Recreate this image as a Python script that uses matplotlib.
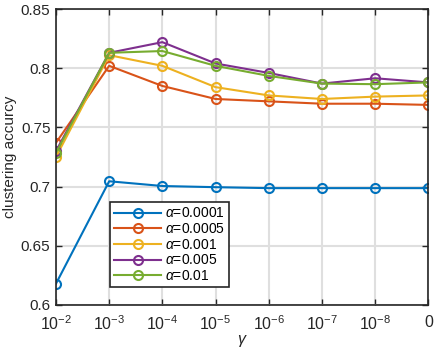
import matplotlib
matplotlib.use("Agg")
import matplotlib.pyplot as plt

plt.rcParams["font.family"] = ["Liberation Sans", "DejaVu Sans"]
plt.rcParams["mathtext.fontset"] = "custom"
plt.rcParams["mathtext.rm"] = "Liberation Sans"
plt.rcParams["mathtext.it"] = "Liberation Sans:italic"

gamma_labels = [r"$\mathregular{10^{-2}}$", r"$\mathregular{10^{-3}}$", r"$\mathregular{10^{-4}}$",
                r"$\mathregular{10^{-5}}$", r"$\mathregular{10^{-6}}$", r"$\mathregular{10^{-7}}$",
                r"$\mathregular{10^{-8}}$", "0"]
alpha_labels = ["0.0001", "0.0005", "0.001", "0.005", "0.01"]
acc_a1 = [0.618, 0.7045, 0.7005, 0.6995, 0.6987, 0.6987, 0.6987, 0.6987]
acc_a2 = [0.737, 0.802, 0.785, 0.774, 0.772, 0.770, 0.770, 0.769]
acc_a3 = [0.725, 0.811, 0.802, 0.784, 0.777, 0.774, 0.776, 0.777]
acc_a4 = [0.730, 0.813, 0.822, 0.804, 0.796, 0.787, 0.7915, 0.788]
acc_a5 = [0.7285, 0.813, 0.8145, 0.802, 0.7935, 0.787, 0.7865, 0.788]
series = [acc_a1, acc_a2, acc_a3, acc_a4, acc_a5]
colors = ["#0072BD", "#D95319", "#EDB120", "#7E2F8E", "#77AC30"]

fig = plt.figure(figsize=(4.36, 3.53), dpi=100)
ax = fig.add_axes([0.1284, 0.136, 0.854, 0.8385])
x = list(range(len(gamma_labels)))
for s, c, a in zip(series, colors, alpha_labels):
    ax.plot(x, s, "-o", color=c, lw=1.5, ms=6.5, mfc="none", mew=1.5,
            label=r"$\alpha$=" + a)

ax.set_xlim(0, 7)
ax.set_ylim(0.6, 0.85)
ax.set_xticks(x)
ax.set_xticklabels(gamma_labels)
ax.set_yticks([0.6, 0.65, 0.7, 0.75, 0.8, 0.85])
ax.set_yticklabels(["0.6", "0.65", "0.7", "0.75", "0.8", "0.85"])
ax.grid(True, color="#dfdfdf", lw=1.5)
ax.set_axisbelow(True)
ax.tick_params(direction="in", top=True, right=True, labelsize=11, colors="#262626",
               length=4, width=1, pad=4)
ax.tick_params(axis="x", pad=7, labelsize=11.5)
for sp in ax.spines.values():
    sp.set_color("#262626")
    sp.set_linewidth(1.2)
ax.set_xlabel(r"$\gamma$", fontsize=11.5, color="#262626", labelpad=0)
ax.set_ylabel("clustering accurcy", fontsize=11, color="#262626", labelpad=3)

leg = ax.legend(loc="lower left", bbox_to_anchor=(0.145, 0.06), fontsize=10,
                handlelength=3.4, borderpad=0.3, labelspacing=0.12,
                handletextpad=0.25, fancybox=False, framealpha=1, borderaxespad=0)
leg.get_frame().set_edgecolor("#262626")
leg.get_frame().set_linewidth(1.2)

fig.savefig("out.png", dpi=100)
